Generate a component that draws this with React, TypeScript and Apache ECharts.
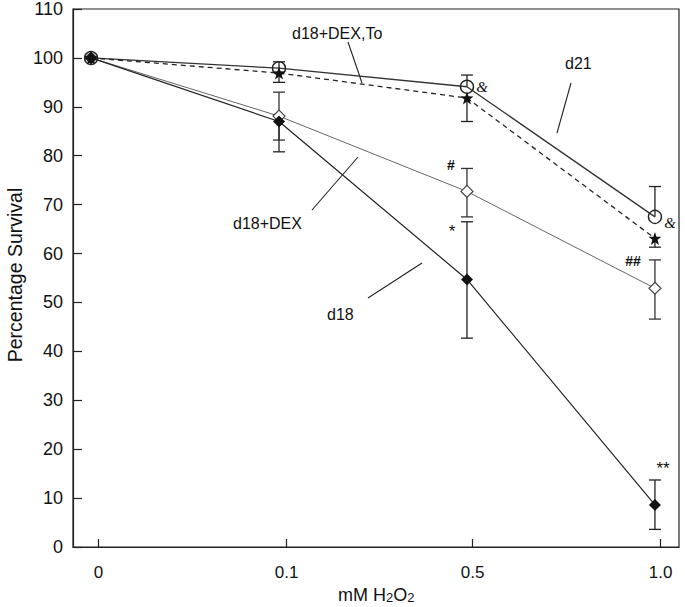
import React, { useEffect, useRef } from "react";
import * as echarts from "echarts";

// x positions: index of dose categories
const doseLabels = ["0", "0.1", "0.5", "1.0"];
const doseIndex = [0, 1, 2, 3];
const tickPositions = [0.04, 1.04, 2.03, 3.03];
const yTicks = [0, 10, 20, 30, 40, 50, 60, 70, 80, 90, 100, 110];

// d21 (open circle, solid)
const d21 = [100, 97.9, 94.1, 67.5];
const d21Upper = [null, 99.2, 96.5, 73.7];
const d21Lower = [null, null, null, null];

// d18+DEX,To (star, dashed)
const d18DexTo = [100, 96.9, 91.8, 63.1];
const d18DexToUpper = [null, null, null, null];
const d18DexToLower = [null, 95.0, 87.0, 61.3];

// d18+DEX (open diamond, grey)
const d18Dex = [100, 88.1, 72.7, 52.9];
const d18DexUpper = [null, 93.0, 77.4, 58.7];
const d18DexLower = [null, 83.2, 67.5, 46.6];

// d18 (filled diamond, solid)
const d18 = [100, 87.0, 54.7, 8.6];
const d18Upper = [null, null, 66.5, 13.7];
const d18Lower = [null, 80.8, 42.7, 3.6];

const FONT = "'Liberation Sans', Arial, Helvetica, sans-serif";
const STAR = "path://M12,0 L14.9,8.4 L24,8.6 L16.8,14 L19.4,22.8 L12,17.6 L4.6,22.8 L7.2,14 L0,8.6 L9.1,8.4 Z";

function errRows(vals: number[], up: (number | null)[], lo: (number | null)[]) {
  const rows: number[][] = [];
  doseIndex.forEach((x, i) => {
    if (up[i] != null) rows.push([x, vals[i], up[i] as number]);
    if (lo[i] != null) rows.push([x, vals[i], lo[i] as number]);
  });
  return rows;
}

function errSeries(rows: number[][], color: string) {
  return {
    type: "custom",
    data: rows,
    z: 1,
    silent: true,
    renderItem: (params: any, api: any) => {
      const p1 = api.coord([api.value(0), api.value(1)]);
      const p2 = api.coord([api.value(0), api.value(2)]);
      const st = { stroke: color, lineWidth: 1.3 };
      return {
        type: "group",
        children: [
          { type: "line", shape: { x1: p1[0], y1: p1[1], x2: p2[0], y2: p2[1] }, style: st },
          { type: "line", shape: { x1: p2[0] - 6, y1: p2[1], x2: p2[0] + 6, y2: p2[1] }, style: st },
        ],
      };
    },
  };
}

const pairs = (vals: number[]) => doseIndex.map((x, i) => [x, vals[i]]);

export default function App() {
  const ref = useRef<HTMLDivElement>(null);
  useEffect(() => {
    if (!ref.current) return;
    const chart = echarts.init(ref.current, undefined, { renderer: "svg" });
    const textStyle = { fontFamily: FONT, fill: "#111" };
    chart.setOption({
      animation: false,
      backgroundColor: "#fff",
      grid: {
        left: 73,
        right: 6,
        top: 9,
        bottom: 60,
        show: true,
        borderColor: "#222",
        borderWidth: 1.2,
      },
      xAxis: {
        type: "value",
        min: -0.096,
        max: 3.128,
        splitLine: { show: false },
        axisLine: { show: true, onZero: false, lineStyle: { color: "#222", width: 1.2 } },
        axisTick: {
          show: true,
          inside: true,
          length: 8,
          customValues: tickPositions,
          lineStyle: { color: "#222", width: 1.2 },
        },
        axisLabel: {
          customValues: tickPositions,
          formatter: (v: number) => doseLabels[Math.round(v)],
          color: "#111",
          fontFamily: FONT,
          fontSize: 17,
          margin: 17,
        },
      },
      yAxis: {
        type: "value",
        min: 0,
        max: 110,
        interval: 10,
        splitLine: { show: false },
        axisLine: { show: true, onZero: false, lineStyle: { color: "#222", width: 1.2 } },
        axisTick: {
          show: true,
          inside: true,
          length: 9,
          lineStyle: { color: "#222", width: 1.2 },
        },
        axisLabel: {
          formatter: (v: number) => (yTicks.includes(v) ? String(v) : ""),
          color: "#111",
          fontFamily: FONT,
          fontSize: 18,
          margin: 10,
        },
      },
      series: [
        errSeries(errRows(d18Dex, d18DexUpper, d18DexLower), "#333"),
        errSeries(errRows(d18DexTo, d18DexToUpper, d18DexToLower), "#222"),
        errSeries(errRows(d21, d21Upper, d21Lower), "#222"),
        errSeries(errRows(d18, d18Upper, d18Lower), "#222"),
        {
          name: "d18+DEX",
          type: "line",
          data: pairs(d18Dex),
          z: 3,
          symbol: "diamond",
          symbolSize: 12,
          lineStyle: { color: "#666", width: 1 },
          itemStyle: { color: "#fff", borderColor: "#444", borderWidth: 1.2 },
        },
        {
          name: "d18+DEX,To",
          type: "line",
          data: pairs(d18DexTo),
          z: 4,
          symbol: STAR,
          symbolSize: 13,
          lineStyle: { color: "#222", width: 1.3, type: [5, 4] },
          itemStyle: { color: "#111", borderColor: "#111", borderWidth: 0 },
        },
        {
          name: "d21",
          type: "line",
          data: pairs(d21),
          z: 3,
          symbol: "circle",
          symbolSize: 13,
          lineStyle: { color: "#333", width: 1.3 },
          itemStyle: { color: "rgba(255,255,255,0)", borderColor: "#222", borderWidth: 1.4 },
        },
        {
          name: "d18",
          type: "line",
          data: pairs(d18),
          z: 5,
          symbol: "diamond",
          symbolSize: 12,
          lineStyle: { color: "#222", width: 1.2 },
          itemStyle: { color: "#111", borderColor: "#111", borderWidth: 0 },
        },
      ],
      graphic: [
        // axis titles
        {
          type: "text",
          x: 15,
          y: 275,
          rotation: Math.PI / 2,
          style: { ...textStyle, text: "Percentage Survival", fontSize: 19.5, align: "center", verticalAlign: "middle" },
        },
        {
          type: "text",
          x: 338,
          y: 595,
          style: {
            ...textStyle,
            text: "{n|mM H}{s|2}{n|O}{s|2}",
            align: "left",
            verticalAlign: "middle",
            rich: {
              n: { fontFamily: FONT, fontSize: 18, fill: "#111", color: "#111" },
              s: { fontFamily: FONT, fontSize: 13, color: "#111", padding: [5, 0, 0, 0] },
            },
          },
        },
        // series labels
        { type: "text", x: 292, y: 33, style: { ...textStyle, text: "d18+DEX,To", fontSize: 16, verticalAlign: "middle" } },
        { type: "text", x: 565, y: 63, style: { ...textStyle, text: "d21", fontSize: 16, verticalAlign: "middle" } },
        { type: "text", x: 233, y: 223, style: { ...textStyle, text: "d18+DEX", fontSize: 16, verticalAlign: "middle" } },
        { type: "text", x: 327, y: 314, style: { ...textStyle, text: "d18", fontSize: 16, verticalAlign: "middle" } },
        // leader lines
        { type: "line", shape: { x1: 348, y1: 42, x2: 362, y2: 83 }, style: { stroke: "#222", lineWidth: 1.1 } },
        { type: "line", shape: { x1: 571, y1: 83, x2: 557, y2: 133 }, style: { stroke: "#222", lineWidth: 1.1 } },
        { type: "line", shape: { x1: 312, y1: 210, x2: 358, y2: 157 }, style: { stroke: "#222", lineWidth: 1.1 } },
        { type: "line", shape: { x1: 368, y1: 298, x2: 422, y2: 263 }, style: { stroke: "#222", lineWidth: 1.1 } },
        // significance marks
        { type: "text", x: 482, y: 87, style: { ...textStyle, text: "&", fontSize: 15, fontStyle: "italic", fontFamily: "'Liberation Serif', serif", verticalAlign: "middle", align: "center" } },
        { type: "text", x: 670, y: 223, style: { ...textStyle, text: "&", fontSize: 15, fontStyle: "italic", fontFamily: "'Liberation Serif', serif", verticalAlign: "middle", align: "center" } },
        { type: "text", x: 451, y: 165, style: { ...textStyle, text: "#", fontSize: 14, fontWeight: "bold", verticalAlign: "middle", align: "center" } },
        { type: "text", x: 452, y: 231, style: { ...textStyle, text: "*", fontSize: 17, verticalAlign: "middle", align: "center" } },
        { type: "text", x: 633, y: 261, style: { ...textStyle, text: "##", fontSize: 14, fontWeight: "bold", verticalAlign: "middle", align: "center" } },
        { type: "text", x: 663, y: 468, style: { ...textStyle, text: "**", fontSize: 17, verticalAlign: "middle", align: "center" } },
      ],
    });
    return () => chart.dispose();
  }, []);
  return (
    <div
      ref={ref}
      style={{ position: "fixed", left: 0, top: 0, width: 685, height: 607 }}
    />
  );
}
